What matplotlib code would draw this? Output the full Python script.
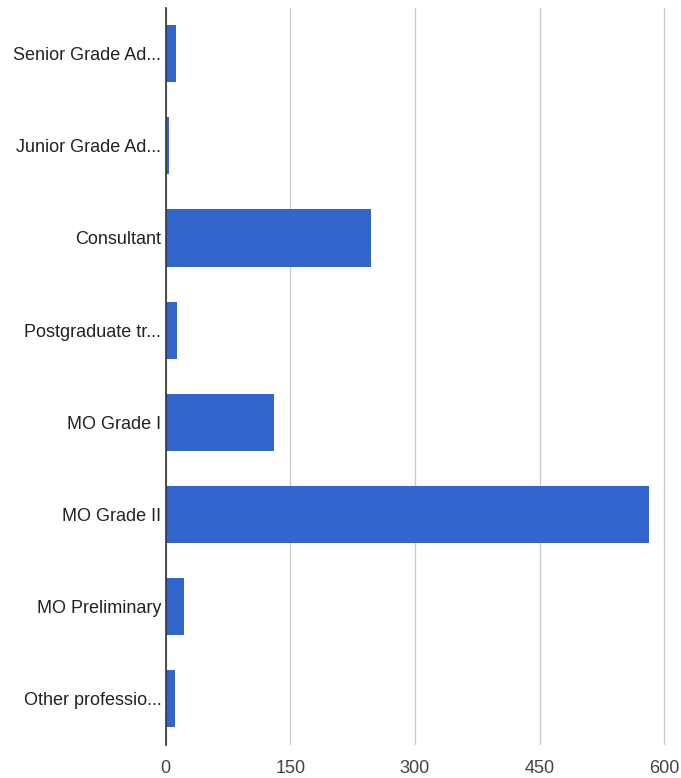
import matplotlib
matplotlib.use("Agg")
import matplotlib.pyplot as plt

plt.rcParams["font.family"] = ["Liberation Sans", "DejaVu Sans"]

# Data
categories = [
    "Senior Grade Ad...",
    "Junior Grade Ad...",
    "Consultant",
    "Postgraduate tr...",
    "MO Grade I",
    "MO Grade II",
    "MO Preliminary",
    "Other professio...",
]
counts = [13, 4, 247, 14, 131, 582, 22, 11]
x_ticks = [0, 150, 300, 450, 600]

fig = plt.figure(figsize=(6.81, 7.78), dpi=100)
ax = fig.add_axes([165.5 / 681, 33 / 778, 1 - 165.5 / 681, 737.5 / 778])

pos = list(range(len(categories)))
ax.barh(pos, counts, height=0.62, color="#3366cc", zorder=3)

ax.set_ylim(len(categories) - 0.5, -0.5)
ax.set_xlim(0, 620)
ax.set_yticks(pos)
ax.set_yticklabels(categories, fontsize=13, color="#222222")
ax.set_xticks(x_ticks)
ax.set_xticklabels([str(t) for t in x_ticks], fontsize=13, color="#444444")

ax.grid(axis="x", color="#cccccc", linewidth=1, zorder=0)
ax.tick_params(axis="y", length=0, pad=3)
ax.tick_params(axis="x", length=0, pad=11)

for side in ["top", "right", "bottom"]:
    ax.spines[side].set_visible(False)
ax.spines["left"].set_color("#333333")
ax.spines["left"].set_linewidth(1.2)
ax.spines["left"].set_zorder(4)

fig.savefig("out.png", dpi=100)
